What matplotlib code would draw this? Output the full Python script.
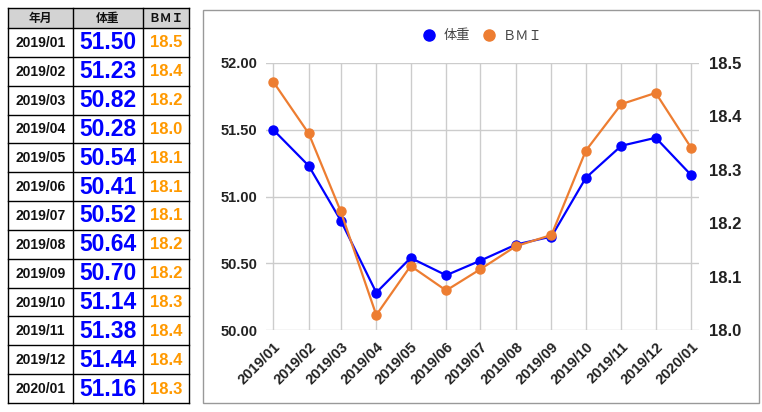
import matplotlib
matplotlib.use("Agg")
import matplotlib.pyplot as plt
import matplotlib.dates as mdates
from matplotlib.patches import Rectangle
from matplotlib.lines import Line2D
from datetime import datetime, timedelta

# ---- data ----
months = ["2019/01", "2019/02", "2019/03", "2019/04", "2019/05", "2019/06", "2019/07",
          "2019/08", "2019/09", "2019/10", "2019/11", "2019/12", "2020/01"]
weight = [51.50, 51.23, 50.82, 50.28, 50.54, 50.41, 50.52, 50.64, 50.70, 51.14, 51.38, 51.44, 51.16]
bmi = [18.465, 18.368, 18.222, 18.028, 18.120, 18.074, 18.114, 18.157, 18.178, 18.336, 18.423, 18.444, 18.341]
table_headers = ["年月", "体重", "ＢＭＩ"]
weight_label = "体重"
bmi_label = "ＢＭＩ"
left_ticks = [50.00, 50.50, 51.00, 51.50, 52.00]
right_ticks = [18.0, 18.1, 18.2, 18.3, 18.4, 18.5]

BLUE = "#0000FF"
ORANGE = "#ED7D31"
TABLE_ORANGE = "#FF9900"
GRID = "#CCCCCC"
CJK = ["Liberation Sans", "Noto Sans CJK JP", "DejaVu Sans"]
plt.rcParams["font.family"] = CJK

W, H = 762, 412
fig = plt.figure(figsize=(W / 100, H / 100), dpi=100)

def fx(px):
    return px / W

def fy(py):
    return 1 - py / H

# ---- table ----
tx0, tx1, ty0, ty1 = 8, 189, 8, 403
tax = fig.add_axes([fx(tx0), fy(ty1), fx(tx1 - tx0), (ty1 - ty0) / H])
tax.set_xlim(tx0, tx1)
tax.set_ylim(ty1, ty0)
tax.axis("off")
col_edges = [8, 73, 143, 189]
header_bottom = 28
nrows = len(months)
row_h = (ty1 - header_bottom) / nrows
tax.add_patch(Rectangle((tx0, ty0), tx1 - tx0, header_bottom - ty0, facecolor="#D3D3D3",
                        edgecolor="none", zorder=0))
row_edges = [ty0, header_bottom] + [header_bottom + row_h * (i + 1) for i in range(nrows)]
for y in row_edges:
    tax.plot([tx0, tx1], [y, y], color="black", lw=1.0, clip_on=False, solid_capstyle="projecting")
for x in col_edges:
    tax.plot([x, x], [ty0, ty1], color="black", lw=1.0, clip_on=False, solid_capstyle="projecting")
centers = [(col_edges[i] + col_edges[i + 1]) / 2 for i in range(3)]
for i, h in enumerate(table_headers):
    tax.text(centers[i], (ty0 + header_bottom) / 2 + 0.5, h, ha="center", va="center",
             fontsize=8.5, fontweight="bold", color="#111111", family=["Noto Sans CJK JP", "DejaVu Sans"])
for r in range(nrows):
    yc = header_bottom + row_h * (r + 0.5) + 0.5
    tax.text(centers[0], yc, months[r], ha="center", va="center", fontsize=10,
             fontweight="bold", color="#111111")
    tax.text(centers[1], yc, f"{weight[r]:.2f}", ha="center", va="center", fontsize=16.5,
             fontweight="bold", color=BLUE)
    tax.text(centers[2], yc, f"{bmi[r]:.1f}", ha="center", va="center", fontsize=12,
             fontweight="bold", color=TABLE_ORANGE)

# ---- chart panel border ----
fig.add_artist(Rectangle((fx(203), fy(403)), fx(759 - 203), (403 - 10) / H,
                         facecolor="none", edgecolor="#999999", lw=1.0,
                         transform=fig.transFigure))

# ---- chart ----
ax_l, ax_r, ax_t, ax_b = 266, 699, 63, 330
ax = fig.add_axes([fx(ax_l), fy(ax_b), fx(ax_r - ax_l), (ax_b - ax_t) / H])
dates = [datetime.strptime(m, "%Y/%m") for m in months]
ax.plot(dates, weight, color=BLUE, lw=1.6, marker="o", markersize=6.5, zorder=3)
ax.set_ylim(50.0, 52.0)
ax.set_yticks(left_ticks)
ax.set_yticklabels([f"{v:.2f}" for v in left_ticks])
ax.set_xlim(dates[0] - timedelta(days=6.3), dates[-1] + timedelta(days=6.8))
ax.set_xticks(dates)
ax.xaxis.set_major_formatter(mdates.DateFormatter("%Y/%m"))
ax.grid(True, color=GRID, lw=1.0)
ax.set_axisbelow(True)
for s in ax.spines.values():
    s.set_visible(False)
ax.tick_params(axis="both", length=0)
ax.tick_params(axis="y", pad=6, labelsize=10.5)
ax.tick_params(axis="x", pad=7, labelsize=10.5)
for lbl in ax.get_yticklabels():
    lbl.set_fontweight("bold")
    lbl.set_color("#222222")
for lbl in ax.get_xticklabels():
    lbl.set_fontweight("bold")
    lbl.set_color("#222222")
    lbl.set_rotation(45)
    lbl.set_ha("right")
    lbl.set_va("top")
    lbl.set_rotation_mode("anchor")

ax2 = ax.twinx()
ax2.plot(dates, bmi, color=ORANGE, lw=1.6, marker="o", markersize=6.5, zorder=3)
ax2.set_ylim(18.0, 18.5)
ax2.set_yticks(right_ticks)
ax2.set_yticklabels([f"{v:.1f}" for v in right_ticks])
for s in ax2.spines.values():
    s.set_visible(False)
ax2.tick_params(axis="y", length=0, pad=7, labelsize=12)
for lbl in ax2.get_yticklabels():
    lbl.set_fontweight("bold")
    lbl.set_color("#222222")

# ---- legend ----
handles = [Line2D([], [], ls="none", marker="o", color=BLUE, markersize=8),
           Line2D([], [], ls="none", marker="o", color=ORANGE, markersize=8)]
fig.legend(handles, [weight_label, bmi_label], loc="center", bbox_to_anchor=(fx(481), fy(36)),
           ncol=2, frameon=False, handletextpad=0.3, columnspacing=0.7, handlelength=1.5,
           labelcolor="#444444", prop={"family": ["Noto Sans CJK JP", "DejaVu Sans"], "size": 9.5})

fig.savefig("out.png", dpi=100)
